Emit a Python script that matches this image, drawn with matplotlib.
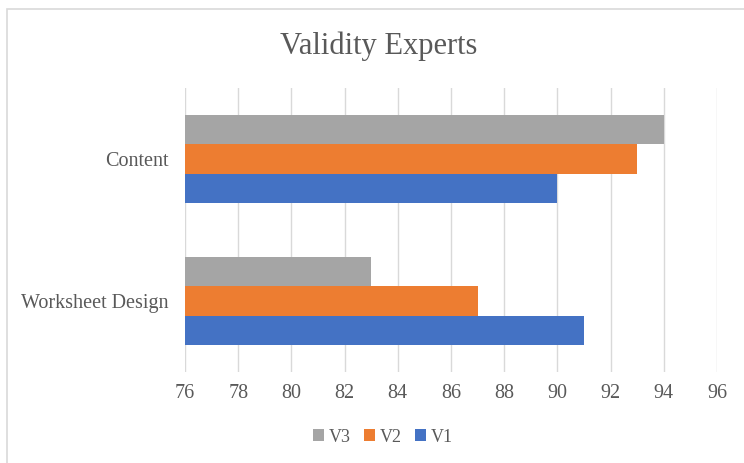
import matplotlib.pyplot as plt
import numpy as np
from matplotlib.patches import Rectangle

categories = ["Worksheet Design", "Content"]
series = ["V1", "V2", "V3"]
v1 = [91, 90]
v2 = [87, 93]
v3 = [83, 94]
colors = {"V1": "#4472c4", "V2": "#ed7d31", "V3": "#a5a5a5"}
xticks = list(range(76, 97, 2))

plt.rcParams["font.family"] = ["Liberation Serif", "DejaVu Serif"]

W, H = 744, 463
fig = plt.figure(figsize=(W / 100, H / 100), dpi=100)
ax = fig.add_axes([185 / W, 1 - 372 / H, (717 - 185) / W, (372 - 88) / H])

# chart border (cut off on right and bottom like the reference)
fig.patches.append(Rectangle((7 / W, -0.05), 1.2, 1 - 9 / H + 0.05, transform=fig.transFigure,
                             fill=False, edgecolor="#d9d9d9", linewidth=1.2))

y = np.arange(len(categories))
bh = 0.208
for i, (name, vals) in enumerate(zip(series, [v1, v2, v3])):
    off = (i - 1) * bh
    ax.barh(y + off, np.array(vals) - 76, left=76, height=bh, color=colors[name], label=name, zorder=3)

ax.set_xlim(76, 96)
ax.set_ylim(-0.5, 1.5)
ax.set_xticks(xticks)
ax.set_yticks(y)
ax.set_yticklabels(categories)
ax.grid(axis="x", color="#d9d9d9", linewidth=1, zorder=0)
for s in ax.spines.values():
    s.set_visible(False)
ax.tick_params(length=0, labelsize=14.5, colors="#595959")
ax.tick_params(axis="x", pad=9)
ax.tick_params(axis="y", pad=12)

fig.text(379 / W, 1 - 46 / H, "Validity Experts", ha="center", va="center", fontsize=22, color="#595959")

handles, labels = ax.get_legend_handles_labels()
fig.legend(handles[::-1], labels[::-1], loc="center", bbox_to_anchor=(383 / W, 1 - 437 / H), ncol=3,
           frameon=False, fontsize=13, labelcolor="#595959", handlelength=0.6, handleheight=0.6,
           handletextpad=0.3, columnspacing=0.7)

fig.savefig("out.png", dpi=100)
